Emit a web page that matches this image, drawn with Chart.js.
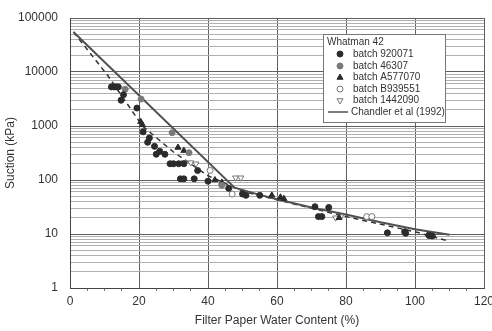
<!DOCTYPE html>
<html>
<head>
<meta charset="utf-8">
<script src="https://cdn.jsdelivr.net/npm/chart.js@4/dist/chart.umd.min.js"></script>
<style>
  html, body { margin: 0; padding: 0; background: #fff; }
  #wrap { width: 492px; height: 331px; }
</style>
</head>
<body>
<div id="wrap"><canvas id="grafico" width="492" height="331"></canvas></div>
<script>
// === Datos: [contenido de agua (%), succión (kPa)] ===
const batch920071 = [
  [12, 5300], [12.7, 5300], [13.4, 5300], [14, 5300], [15.5, 3800], [14.8, 3000],
  [19.4, 2150], [21.2, 780], [23, 600], [22.5, 500], [24.5, 420], [26, 340],
  [27.5, 300], [25, 300], [29, 200], [30, 200], [31.5, 200], [33, 200],
  [32, 105], [33, 105], [36, 105], [37, 150], [40, 95], [46, 70], [50, 55],
  [51, 52], [55, 52], [71, 32], [72, 21], [73, 21], [75, 31], [92, 10.5],
  [97, 11], [97.3, 10.3], [104, 9.5], [105, 9.2]
];
const batch46307 = [[16, 4800], [20.6, 3150], [29.6, 750], [34.5, 320], [44, 80]];
const batchA577070 = [
  [21, 1050], [20.5, 1200], [31.3, 400], [33, 350], [42, 100], [44, 90],
  [58.5, 52], [61, 48], [62, 45], [78, 20], [104.5, 9]
];
const batchB939551 = [[40.6, 150], [47, 55], [86, 21], [87.5, 21]];
const batch1442090 = [[33, 210], [35, 210], [36.5, 200], [48, 110], [49.5, 110], [78.5, 21], [77, 20]];

// Curva de Chandler et al (1992) y ajuste punteado
const chandler = [[1, 55000], [47.7, 72], [55, 53], [60, 44], [70, 31], [80, 23], [90, 16.5], [100, 12.3], [110, 9.7]];
const ajuste = [[1, 55000], [11, 8500], [21, 1000], [30, 330], [40, 120], [50, 62], [60, 43], [80, 21], [100, 11], [110, 7.3]];

// Ticks
const ticksX = [0, 20, 40, 60, 80, 100, 120];
const ticksY = [1, 10, 100, 1000, 10000, 100000];

const fuente = "'Liberation Sans', Arial, sans-serif";
const aPuntos = arr => arr.map(p => ({ x: p[0], y: p[1] }));

function serie(label, datos, estilo) {
  return Object.assign({
    label,
    data: aPuntos(datos),
    showLine: false,
    pointRadius: 3,
    pointBorderWidth: 1
  }, estilo);
}

const datasets = [
  serie("batch 920071", batch920071, { pointStyle: "circle", backgroundColor: "#2b2b2b", borderColor: "#2b2b2b" }),
  serie("batch 46307", batch46307, { pointStyle: "circle", backgroundColor: "#7a7a7a", borderColor: "#7a7a7a" }),
  serie("batch A577070", batchA577070, { pointStyle: "triangle", pointRadius: 3.5, backgroundColor: "#2b2b2b", borderColor: "#2b2b2b" }),
  serie("batch B939551", batchB939551, { pointStyle: "circle", backgroundColor: "#fff", borderColor: "#777" }),
  serie("batch 1442090", batch1442090, { pointStyle: "triangle", pointRotation: 180, pointRadius: 3.5, backgroundColor: "#fff", borderColor: "#777" }),
  {
    label: "Chandler et al (1992)",
    data: aPuntos(chandler),
    showLine: true, pointRadius: 0,
    borderColor: "#505050", borderWidth: 2
  },
  {
    label: "ajuste",
    data: aPuntos(ajuste),
    showLine: true, pointRadius: 0,
    borderColor: "#333", borderWidth: 1.5, borderDash: [5, 4]
  }
];

// === Leyenda dibujada dentro del área del gráfico ===
const leyenda = {
  id: "leyenda",
  afterDatasetsDraw(chart) {
    const ctx = chart.ctx;
    const x0 = 323, y0 = 34, w = 122, h = 88;
    ctx.save();
    ctx.fillStyle = "#fff";
    ctx.fillRect(x0, y0, w, h);
    ctx.strokeStyle = "#777";
    ctx.lineWidth = 1;
    ctx.strokeRect(x0 + 0.5, y0 + 0.5, w, h);
    ctx.font = "10px " + fuente;
    ctx.fillStyle = "#333";
    ctx.textBaseline = "middle";
    ctx.fillText("Whatman 42", x0 + 4, 42);
    const filas = [54, 66, 77.5, 89, 100.5, 112];
    for (let i = 0; i < 5; i++) {
      const ds = chart.data.datasets[i];
      ctx.fillStyle = ds.backgroundColor;
      ctx.strokeStyle = ds.borderColor;
      ctx.lineWidth = 1;
      Chart.helpers.drawPoint(ctx, {
        pointStyle: ds.pointStyle,
        radius: ds.pointRadius,
        rotation: ds.pointRotation || 0,
        borderWidth: 1
      }, 340, filas[i]);
      ctx.fillStyle = "#333";
      ctx.fillText(ds.label, 353, filas[i]);
    }
    ctx.strokeStyle = "#505050";
    ctx.lineWidth = 1.5;
    ctx.beginPath();
    ctx.moveTo(328, filas[5]);
    ctx.lineTo(348, filas[5]);
    ctx.stroke();
    ctx.fillText(chart.data.datasets[5].label, 351, filas[5]);
    ctx.restore();
  }
};

const esPotencia = v => Math.abs(Math.log10(v) - Math.round(Math.log10(v))) < 1e-9;

new Chart(document.getElementById("grafico"), {
  type: "scatter",
  data: { datasets },
  plugins: [leyenda],
  options: {
    responsive: false,
    animation: false,
    layout: { padding: { top: 18, right: 8, left: 0, bottom: 0 } },
    plugins: { legend: { display: false }, tooltip: { enabled: false } },
    scales: {
      x: {
        type: "linear",
        min: 0, max: 120,
        afterBuildTicks: scale => {
          const t = [];
          for (let v = 0; v <= 120; v += 5) t.push({ value: v });
          scale.ticks = t;
        },
        afterFit: scale => {
          scale.height = 43;
          scale.paddingLeft = 0;
          scale.paddingRight = 0;
        },
        ticks: {
          autoSkip: false,
          maxRotation: 0,
          padding: 3,
          color: "#333",
          font: { family: fuente, size: 12 },
          callback: v => ticksX.includes(v) ? String(v) : ""
        },
        grid: {
          color: c => ticksX.includes(c.tick.value) ? "#606060" : "rgba(0,0,0,0)",
          tickColor: c => ticksX.includes(c.tick.value) ? "rgba(0,0,0,0)" : "#777",
          tickLength: 3,
          lineWidth: 1
        },
        border: { color: "#444" },
        title: {
          display: true,
          text: "Filter Paper Water Content (%)",
          color: "#333",
          font: { family: fuente, size: 12 },
          padding: { top: 0, bottom: 3 }
        }
      },
      y: {
        type: "logarithmic",
        min: 1, max: 100000,
        afterBuildTicks: scale => {
          const t = [];
          for (let d = 1; d < 100000; d *= 10) {
            for (let m = 1; m < 10; m++) t.push({ value: d * m });
          }
          t.push({ value: 100000 });
          scale.ticks = t;
        },
        afterFit: scale => {
          scale.width = 70;
          scale.paddingTop = 0;
          scale.paddingBottom = 0;
        },
        ticks: {
          autoSkip: false,
          padding: 12,
          color: "#333",
          font: { family: fuente, size: 12 },
          callback: v => (ticksY.includes(v) ? String(v) : "")
        },
        grid: {
          color: c => esPotencia(c.tick.value) ? "#606060" : "#b0b0b0",
          drawTicks: false,
          lineWidth: 1
        },
        border: { color: "#444" },
        title: {
          display: true,
          text: "Suction (kPa)",
          color: "#333",
          font: { family: fuente, size: 12 },
          padding: { top: 3, bottom: 0 }
        }
      }
    }
  }
});
</script>
</body>
</html>
